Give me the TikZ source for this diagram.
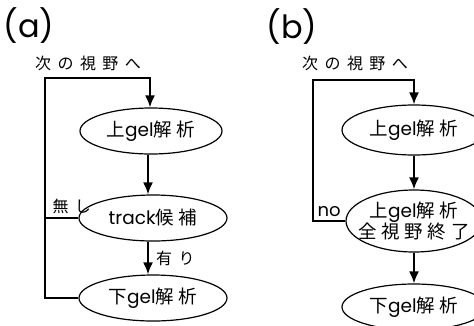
\documentclass[tikz,border=0pt]{standalone}
\usepackage{fontspec}
\setmainfont{Poppins}
\newfontfamily\jp[LetterSpace=25]{Noto Sans CJK JP}
\newfontfamily\jpwide[LetterSpace=40]{Noto Sans CJK JP}
\usetikzlibrary{arrows.meta,shapes.geometric,positioning}

\tikzset{
	flowstep/.style={ellipse,draw,line width=1.2pt,minimum width=142pt,minimum height=46pt,inner xsep=-8pt,inner ysep=0pt,font=\fontsize{18.5}{21}\selectfont},
	flow/.style={-{Latex[length=12pt,width=10pt]},line width=1.8pt},
	loopline/.style={line width=1.8pt},
	panel/.style={font=\fontsize{32}{34}\selectfont},
	note/.style={font=\jpwide\fontsize{16}{18}\selectfont},
}

\begin{document}
\begin{tikzpicture}[
	x=1pt,y=-1pt,
	%node distance=2.5cm,
	]
	\useasboundingbox (0,0) rectangle (474,325);
	
	% (a)
	\node[panel] at (29,26) (titA) {(a)};
	\node[note] at (88,63) (nextA) {次の視野へ};
	\node[flowstep] at (151,131) (upA) {{\jp 上}gel{\jp 解析}};
	\node[flowstep,minimum width=148pt] at (153,218) (trackA) {track{\jp 候補}};
	\node[flowstep,minimum width=148pt] at (153,298) (lowA) {{\jp 下}gel{\jp 解析}};
	\coordinate (loopA) at (45,78);
	
	\path[flow] ([xshift=-3pt]upA.south) edge ([xshift=-5pt]trackA.north);
	\path[flow] ([xshift=-5pt]trackA.south) edge node[note,right=4pt] {有り} ([xshift=-5pt]lowA.north);
	\draw[loopline] (trackA.west) -- node[note,above,pos=0.2] {無し} (trackA.west -| loopA);
	\draw[flow] (lowA.west) -| (loopA) -| ([xshift=-1pt]upA.north);
	
	% (b)
	\node[panel] at (292,27) (titB) {(b)};
	\node[note] at (355,63) (nextB) {次の視野へ};
	\node[flowstep,minimum width=144pt,minimum height=50pt] at (414,130) (upB) {{\jp 上}gel{\jp 解析}};
	\node[flowstep,minimum width=136pt,minimum height=62pt,inner xsep=-13pt,align=center] at (414,221) (endB) {{\jp 上}gel{\jp 解析}\\{\jp 全視野終了}};
	\node[flowstep,minimum width=144pt] at (414,307) (lowB) {{\jp 下}gel{\jp 解析}};
	\coordinate (loopB) at (313,80);
	
	\path[flow] (upB) edge (endB);
	\path[flow] (endB) edge (lowB);
	\draw[flow] (endB.west) -- node[above,pos=0.5,font=\fontsize{18}{20}\selectfont] {no} (endB.west -| loopB) -- (loopB) -| (upB.north);
	\end{tikzpicture}
\end{document}
